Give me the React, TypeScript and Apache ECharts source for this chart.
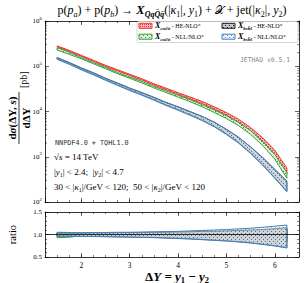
import React, { useEffect, useRef } from "react";
import * as echarts from "echarts";

// ---------- data ----------
const DY = [1.5, 1.75, 2.0, 2.25, 2.5, 2.75, 3.0, 3.25, 3.5, 3.75, 4.0, 4.25, 4.5, 4.75, 5.0, 5.25, 5.5, 5.75, 6.0, 6.25];

// central values [pb]
const CUDI_HE = [275000, 219000, 170000, 132000, 102000, 81300, 64600, 51300, 39800, 31600, 25100, 20000, 15800, 12000, 8910, 6310, 4070, 2400, 1260, 500];
const CUDI_NLL = [245000, 195000, 151000, 117000, 91200, 70800, 56200, 44700, 34700, 27500, 21900, 17400, 13500, 10200, 7590, 5370, 3470, 2000, 1020, 398];
const BSBS_HE = [152000, 118000, 89700, 69600, 52800, 41000, 31800, 25200, 19700, 15200, 12100, 9390, 7290, 5410, 3740, 2470, 1490, 857, 460, 247];
const BSBS_NLL = [148000, 115000, 87100, 67600, 51300, 39800, 30900, 24500, 19100, 14800, 11700, 9120, 7080, 5250, 3630, 2400, 1450, 832, 447, 240];

// uncertainty bands as ratio to central value
const CUDI_HE_HI = [1.025, 1.025, 1.025, 1.025, 1.03, 1.03, 1.03, 1.035, 1.035, 1.04, 1.04, 1.045, 1.05, 1.055, 1.06, 1.07, 1.08, 1.09, 1.10, 1.12];
const CUDI_HE_LO = [0.975, 0.975, 0.975, 0.975, 0.97, 0.97, 0.97, 0.965, 0.965, 0.96, 0.955, 0.95, 0.945, 0.94, 0.93, 0.92, 0.91, 0.895, 0.875, 0.85];
const CUDI_NLL_HI = [1.05, 1.045, 1.03, 1.03, 1.03, 1.03, 1.035, 1.035, 1.04, 1.04, 1.045, 1.05, 1.05, 1.055, 1.06, 1.07, 1.08, 1.09, 1.10, 1.12];
const CUDI_NLL_LO = [0.93, 0.94, 0.97, 0.97, 0.97, 0.965, 0.965, 0.96, 0.96, 0.955, 0.95, 0.945, 0.94, 0.93, 0.92, 0.91, 0.90, 0.885, 0.865, 0.84];
const BSBS_HE_HI = [1.03, 1.03, 1.03, 1.035, 1.035, 1.04, 1.04, 1.045, 1.05, 1.05, 1.055, 1.06, 1.07, 1.075, 1.08, 1.09, 1.10, 1.11, 1.13, 1.15];
const BSBS_HE_LO = [0.965, 0.965, 0.96, 0.96, 0.955, 0.95, 0.945, 0.94, 0.935, 0.925, 0.915, 0.905, 0.89, 0.875, 0.86, 0.84, 0.815, 0.785, 0.75, 0.71];
const BSBS_NLL_HI = [1.04, 1.04, 1.04, 1.045, 1.045, 1.05, 1.05, 1.055, 1.06, 1.065, 1.07, 1.08, 1.09, 1.10, 1.11, 1.125, 1.14, 1.16, 1.185, 1.21];
const BSBS_NLL_LO = [0.96, 0.96, 0.955, 0.955, 0.95, 0.945, 0.94, 0.935, 0.93, 0.92, 0.91, 0.90, 0.885, 0.87, 0.855, 0.835, 0.81, 0.78, 0.745, 0.70];

const X_MIN = 1.25;
const X_MAX = 6.5;
const Y_MIN = 100;
const Y_MAX = 1000000;
const DECADES = [100, 1000, 10000, 100000];
const MINOR_MULT = [2, 3, 4, 5, 6, 7, 8, 9];

const SERIF = '"Liberation Serif", "DejaVu Serif", serif';
const MONO = '"DejaVu Sans Mono", "Liberation Mono", monospace';

const RED = "#ee3333";
const GREEN = "#35a035";
const BLACK = "#1a1a1a";
const BLUE = "#3b82c4";

function makePattern(bg: string, fg: string, kind: string) {
  const c = document.createElement("canvas");
  c.width = 4;
  c.height = 4;
  const ctx = c.getContext("2d")!;
  ctx.fillStyle = bg;
  ctx.fillRect(0, 0, 4, 4);
  ctx.fillStyle = fg;
  if (kind === "x") {
    ctx.fillRect(0, 0, 1, 1);
    ctx.fillRect(2, 2, 1, 1);
    ctx.fillRect(2, 0, 1, 1);
    ctx.fillRect(0, 2, 1, 1);
  } else {
    ctx.fillRect(1, 1, 1, 1);
    ctx.fillRect(3, 3, 1, 1);
  }
  return { image: c, repeat: "repeat" };
}

function bandData(center: number[], lo: number[], hi: number[]) {
  return DY.map((x, i) => [x, center[i] * lo[i], center[i] * hi[i]]);
}
function ratioData(lo: number[], hi: number[]) {
  return DY.map((x, i) => [x, lo[i], hi[i]]);
}

function bandSeries(name: string, xi: number, yi: number, data: number[][], fill: any, stroke: string, z: number, lw = 1) {
  return {
    type: "custom",
    name,
    xAxisIndex: xi,
    yAxisIndex: yi,
    clip: true,
    z,
    silent: true,
    data,
    encode: { x: 0, y: [1, 2] },
    renderItem: (params: any, api: any) => {
      if (params.dataIndex !== 0) return null;
      const pts: number[][] = [];
      for (let i = 0; i < data.length; i++) pts.push(api.coord([data[i][0], data[i][2]]));
      for (let i = data.length - 1; i >= 0; i--) pts.push(api.coord([data[i][0], data[i][1]]));
      return { type: "polygon", shape: { points: pts }, style: { fill, stroke, lineWidth: lw } };
    },
  };
}

function xAxes(gridIndex: number, position: string, labels: boolean) {
  const base = {
    gridIndex,
    type: "value",
    min: X_MIN,
    max: X_MAX,
    position,
    splitLine: { show: false },
  };
  return [
    {
      ...base,
      splitNumber: 5,
      axisLine: { show: true, onZero: false, lineStyle: { color: "#000", width: 0.8 } },
      axisTick: { show: true, inside: true, length: 4, lineStyle: { color: "#000", width: 0.6 } },
      axisLabel: {
        show: labels,
        showMinLabel: false,
        showMaxLabel: false,
        fontFamily: SERIF,
        fontSize: 7.5,
        color: "#000",
        margin: 4,
      },
    },
    {
      ...base,
      interval: 0.25,
      axisLine: { show: false, onZero: false },
      axisTick: { show: true, inside: true, length: 2, lineStyle: { color: "#000", width: 0.5 } },
      axisLabel: { show: false },
    },
  ];
}

const yLabelRich = {
  b: { fontFamily: SERIF, fontSize: 7, lineHeight: 11, color: "#000" },
  s: { fontFamily: SERIF, fontSize: 5, lineHeight: 6, verticalAlign: "top", color: "#000" },
};

export default function App() {
  const ref = useRef<HTMLDivElement>(null);
  useEffect(() => {
    if (!ref.current) return;
    const chart = echarts.init(ref.current, undefined, { renderer: "svg" });

    const redFill = makePattern("#f9b9b9", RED, "x");
    const greenFill = makePattern("#dff0df", GREEN, "d");
    const blackFill = makePattern("#c4c4c4", "#222222", "d");
    const blueFill = makePattern("rgba(225,235,246,0.35)", "rgba(80,120,170,0.6)", "d");
    const blueLegendFill = makePattern("#eef3f8", "#6d8fb5", "d");

    const logMinor: number[][] = [];
    DECADES.forEach((d) => MINOR_MULT.forEach((m) => logMinor.push([X_MIN, d * m])));

    const minorTickSeries = {
      type: "custom",
      xAxisIndex: 0,
      yAxisIndex: 0,
      silent: true,
      z: 30,
      data: logMinor,
      encode: { x: 0, y: 1 },
      renderItem: (params: any, api: any) => {
        const v = api.value(1);
        const a = api.coord([X_MIN, v]);
        const b = api.coord([X_MAX, v]);
        return {
          type: "group",
          children: [
            { type: "line", shape: { x1: a[0], y1: a[1], x2: a[0] + 2, y2: a[1] }, style: { stroke: "#000", lineWidth: 0.5 } },
            { type: "line", shape: { x1: b[0] - 2, y1: b[1], x2: b[0], y2: b[1] }, style: { stroke: "#000", lineWidth: 0.5 } },
          ],
        };
      },
    };

    const tRich: any = {
      r: { fontFamily: SERIF, fontSize: 12, lineHeight: 16, color: "#000" },
      i: { fontFamily: SERIF, fontSize: 12, fontStyle: "italic", lineHeight: 16, color: "#000" },
      sub: { fontFamily: SERIF, fontSize: 8, fontStyle: "italic", lineHeight: 10, verticalAlign: "bottom", color: "#000" },
      sr: { fontFamily: SERIF, fontSize: 8, lineHeight: 10, verticalAlign: "bottom", color: "#000" },
      X: { fontFamily: SERIF, fontSize: 12.5, fontStyle: "italic", fontWeight: "bold", lineHeight: 16, color: "#000" },
      xs: { fontFamily: SERIF, fontSize: 8, fontStyle: "italic", fontWeight: "bold", lineHeight: 10, verticalAlign: "bottom", color: "#000" },
      cal: { fontFamily: '"DejaVu Sans", "DejaVu Serif", serif', fontSize: 11, lineHeight: 16, color: "#000" },
    };
    const titleText =
      "{r|p(}{i|p}{sub|a}{r|) + p(}{i|p}{sub|b}{r|) → }{X|X}{xs|QqQ̄q̄}{r|(|}{i|κ}{sr|1}{r||, }{i|y}{sr|1}{r|) + }{cal|𝒳}{r| + jet(|}{i|κ}{sr|2}{r||, }{i|y}{sr|2}{r|)}";

    const anRich: any = {
      r: { fontFamily: SERIF, fontSize: 9, lineHeight: 12, color: "#000" },
      i: { fontFamily: SERIF, fontSize: 9, fontStyle: "italic", lineHeight: 12, color: "#000" },
      s: { fontFamily: SERIF, fontSize: 6, lineHeight: 8, verticalAlign: "bottom", color: "#000" },
    };

    const lgRich: any = {
      X: { fontFamily: SERIF, fontSize: 8, fontStyle: "italic", fontWeight: "bold", lineHeight: 10, color: "#000" },
      s: { fontFamily: SERIF, fontSize: 5, fontStyle: "italic", fontWeight: "bold", lineHeight: 6, verticalAlign: "bottom", color: "#000" },
      r: { fontFamily: SERIF, fontSize: 6, lineHeight: 10, color: "#000" },
    };

    const legendItems = [
      { x: 139, y: 23.3, fill: redFill, stroke: RED, text: "{X|X}{s|cuc̄ū}{r| - HE-NLO⁺}" },
      { x: 139, y: 34.2, fill: greenFill, stroke: GREEN, text: "{X|X}{s|cuc̄ū}{r| - NLL/NLO⁺}" },
      { x: 222, y: 23.3, fill: blackFill, stroke: BLACK, text: "{X|X}{s|bsb̄s̄}{r| - HE-NLO⁺}" },
      { x: 222, y: 34.2, fill: blueLegendFill, stroke: BLUE, text: "{X|X}{s|bsb̄s̄}{r| - NLL/NLO⁺}" },
    ];

    const graphics: any[] = [
      {
        type: "text",
        x: 172,
        y: 10,
        style: { text: titleText, rich: tRich, align: "center", verticalAlign: "middle" },
      },
      {
        type: "rect",
        shape: { x: 137, y: 21.5, width: 161, height: 21, r: 2 },
        style: { fill: "rgba(255,255,255,0.85)", stroke: "#cccccc", lineWidth: 0.8 },
        z: 50,
      },
      ...legendItems.flatMap((it) => [
        {
          type: "rect",
          shape: { x: it.x, y: it.y, width: 13, height: 5 },
          style: { fill: it.fill, stroke: it.stroke, lineWidth: 1 },
          z: 51,
        },
        {
          type: "text",
          x: it.x + 16,
          y: it.y + 2.5,
          z: 51,
          style: { text: it.text, rich: lgRich, align: "left", verticalAlign: "middle" },
        },
      ]),
      {
        type: "text",
        x: 290,
        y: 60,
        style: { text: "JETHAD v0.5.1", fontFamily: MONO, fontSize: 6.4, fill: "#8a8a8a", align: "right", verticalAlign: "middle" },
      },
      {
        type: "text",
        x: 55,
        y: 143,
        style: { text: "NNPDF4.0 + TQHL1.0", fontFamily: MONO, fontSize: 6.8, fill: "#333", align: "left", verticalAlign: "middle" },
      },
      {
        type: "text",
        x: 54,
        y: 157,
        style: { text: "{r|√}{i|s}{r| = 14 TeV}", rich: anRich, align: "left", verticalAlign: "middle" },
      },
      {
        type: "text",
        x: 54,
        y: 172,
        style: { text: "{r||}{i|y}{s|1}{r|| < 2.4;  |}{i|y}{s|2}{r|| < 4.7}", rich: anRich, align: "left", verticalAlign: "middle" },
      },
      {
        type: "text",
        x: 54,
        y: 186.5,
        style: {
          text: "{r|30 < |}{i|κ}{s|1}{r||/GeV < 120;  50 < |}{i|κ}{s|2}{r||/GeV < 120}",
          rich: anRich,
          align: "left",
          verticalAlign: "middle",
        },
      },
      // y-axis title (fraction)
      {
        type: "group",
        x: 19,
        y: 118,
        rotation: Math.PI / 2,
        children: [
          {
            type: "text",
            x: 0,
            y: -7,
            style: {
              text: "{b|d}{bi|σ}{b|(ΔY, }{bi|s}{b|)}",
              rich: {
                b: { fontFamily: SERIF, fontSize: 11, fontWeight: "bold", color: "#000" },
                bi: { fontFamily: SERIF, fontSize: 11, fontWeight: "bold", fontStyle: "italic", color: "#000" },
              },
              align: "center",
              verticalAlign: "middle",
            },
          },
          { type: "line", shape: { x1: -26, y1: 0, x2: 26, y2: 0 }, style: { stroke: "#000", lineWidth: 0.8 } },
          {
            type: "text",
            x: 0,
            y: 7,
            style: {
              text: "dΔY",
              fontFamily: SERIF,
              fontSize: 11,
              fontWeight: "bold",
              fill: "#000",
              align: "center",
              verticalAlign: "middle",
            },
          },
          {
            type: "text",
            x: 30,
            y: 4,
            style: { text: "[pb]", fontFamily: SERIF, fontSize: 10, fill: "#000", align: "left", verticalAlign: "middle" },
          },
        ],
      },
      {
        type: "text",
        x: 12,
        y: 234.5,
        rotation: Math.PI / 2,
        style: { text: "ratio", fontFamily: SERIF, fontSize: 10.5, fill: "#000", align: "center", verticalAlign: "middle" },
      },
      {
        type: "text",
        x: 177,
        y: 276,
        style: {
          text: "{b|Δ}{bi|Y}{b| = }{bi|y}{bs|1}{b| − }{bi|y}{bs|2}",
          rich: {
            b: { fontFamily: SERIF, fontSize: 13, fontWeight: "bold", lineHeight: 16, color: "#000" },
            bi: { fontFamily: SERIF, fontSize: 13, fontWeight: "bold", fontStyle: "italic", lineHeight: 16, color: "#000" },
            bs: { fontFamily: SERIF, fontSize: 8.5, fontWeight: "bold", lineHeight: 10, verticalAlign: "bottom", color: "#000" },
          },
          align: "center",
          verticalAlign: "middle",
        },
      },
    ];

    const option: any = {
      animation: false,
      backgroundColor: "#fff",
      grid: [
        { left: 45, top: 21, width: 254, height: 181 },
        { left: 45, top: 212, width: 254, height: 45 },
      ],
      xAxis: [
        ...xAxes(0, "bottom", false),
        ...xAxes(0, "top", false),
        ...xAxes(1, "bottom", true),
        ...xAxes(1, "top", false),
      ],
      yAxis: [
        {
          gridIndex: 0,
          type: "log",
          logBase: 10,
          min: Y_MIN,
          max: Y_MAX,
          position: "left",
          splitLine: { show: false },
          axisLine: { show: true, lineStyle: { color: "#000", width: 0.8 } },
          axisTick: { show: true, inside: true, length: 4, lineStyle: { color: "#000", width: 0.6 } },
          axisLabel: {
            margin: 3,
            formatter: (v: number) => `{b|10}{s|${Math.round(Math.log10(v))}}`,
            rich: yLabelRich,
          },
        },
        {
          gridIndex: 0,
          type: "log",
          logBase: 10,
          min: Y_MIN,
          max: Y_MAX,
          position: "right",
          splitLine: { show: false },
          axisLine: { show: true, lineStyle: { color: "#000", width: 0.8 } },
          axisTick: { show: true, inside: true, length: 4, lineStyle: { color: "#000", width: 0.6 } },
          axisLabel: { show: false },
        },
        {
          gridIndex: 1,
          type: "value",
          min: 0.5,
          max: 1.5,
          interval: 0.5,
          position: "left",
          splitLine: { show: false },
          axisLine: { show: true, lineStyle: { color: "#000", width: 0.8 } },
          axisTick: { show: true, inside: true, length: 4, lineStyle: { color: "#000", width: 0.6 } },
          minorTick: { show: true, splitNumber: 5, length: 2, lineStyle: { color: "#000", width: 0.5 } },
          axisLabel: {
            margin: 3,
            fontFamily: SERIF,
            fontSize: 7,
            color: "#000",
            formatter: (v: number) => v.toFixed(1),
          },
        },
        {
          gridIndex: 1,
          type: "value",
          min: 0.5,
          max: 1.5,
          interval: 0.5,
          position: "right",
          splitLine: { show: false },
          axisLine: { show: true, lineStyle: { color: "#000", width: 0.8 } },
          axisTick: { show: true, inside: true, length: 4, lineStyle: { color: "#000", width: 0.6 } },
          minorTick: { show: true, splitNumber: 5, length: 2, lineStyle: { color: "#000", width: 0.5 } },
          axisLabel: { show: false },
        },
      ],
      graphic: graphics,
      series: [
        bandSeries("cudi HE", 0, 0, bandData(CUDI_HE, CUDI_HE_LO, CUDI_HE_HI), redFill, RED, 2),
        bandSeries("cudi NLL", 0, 0, bandData(CUDI_NLL, CUDI_NLL_LO, CUDI_NLL_HI), greenFill, GREEN, 3),
        bandSeries("bsbs HE", 0, 0, bandData(BSBS_HE, BSBS_HE_LO, BSBS_HE_HI), blackFill, "#333", 4, 0.8),
        bandSeries("bsbs NLL", 0, 0, bandData(BSBS_NLL, BSBS_NLL_LO, BSBS_NLL_HI), blueFill, BLUE, 5),
        minorTickSeries,
        bandSeries("r cudi HE", 4, 2, ratioData(CUDI_HE_LO, CUDI_HE_HI), redFill, RED, 2),
        bandSeries("r cudi NLL", 4, 2, ratioData(CUDI_NLL_LO, CUDI_NLL_HI), greenFill, GREEN, 3),
        bandSeries("r bsbs HE", 4, 2, ratioData(BSBS_HE_LO, BSBS_HE_HI), blackFill, "#333", 4, 0.8),
        bandSeries("r bsbs NLL", 4, 2, ratioData(BSBS_NLL_LO, BSBS_NLL_HI), blueFill, BLUE, 5),
        {
          type: "line",
          xAxisIndex: 4,
          yAxisIndex: 2,
          data: [
            [X_MIN, 1],
            [X_MAX, 1],
          ],
          symbol: "none",
          silent: true,
          z: 20,
          lineStyle: { color: "#000", width: 0.8 },
        },
      ],
    };
    chart.setOption(option);
    return () => chart.dispose();
  }, []);

  return <div ref={ref} style={{ position: "fixed", left: 0, top: 0, width: 304, height: 283 }} />;
}
